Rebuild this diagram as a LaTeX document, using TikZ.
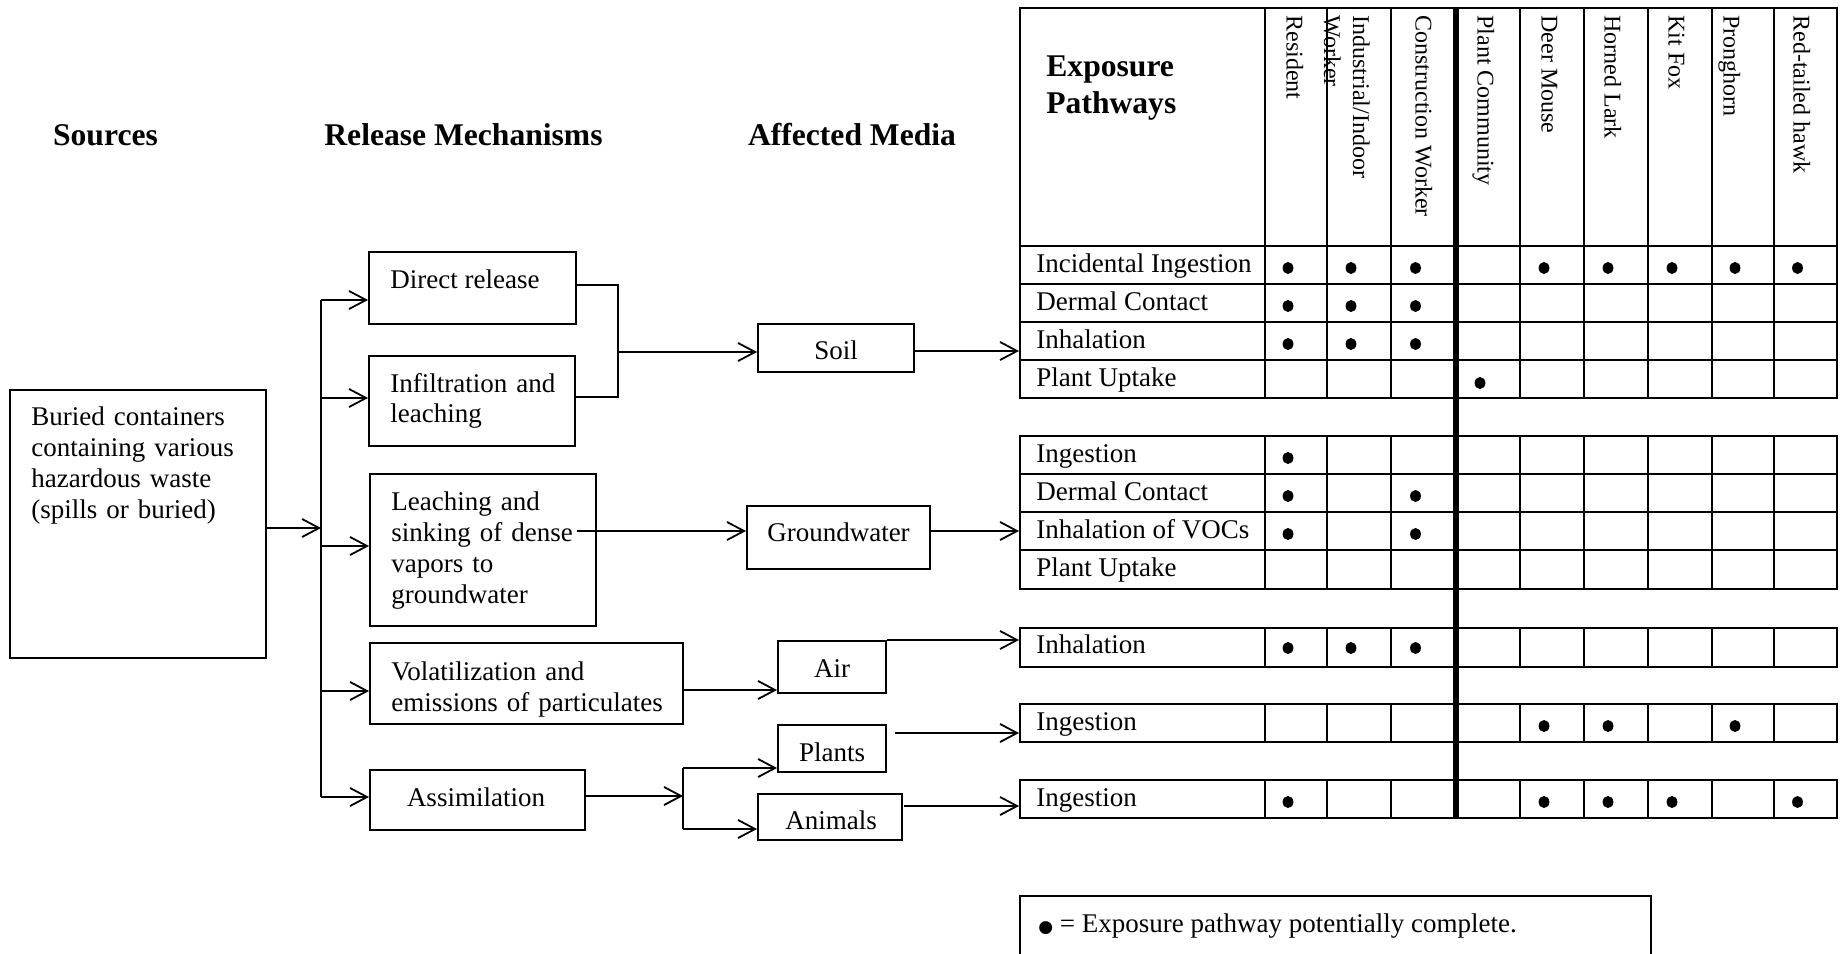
\documentclass[tikz,border=0pt]{standalone}
\usepackage{fontspec}
\setmainfont{Liberation Serif}
\newfontfamily\symfont{DejaVu Sans}
\usetikzlibrary{arrows.meta}
\begin{document}
\begin{tikzpicture}[x=0.5pt,y=-0.5pt,
  box/.style={draw,line width=1pt,inner sep=0pt},
  ftxt/.style={font=\fontsize{13.5}{15.5}\selectfont,inner sep=0pt},
  hd/.style={font=\bfseries\fontsize{15.8}{18.5}\selectfont,inner sep=0pt},
  ch/.style={font=\fontsize{12}{14}\selectfont,inner sep=0pt,rotate=-90,anchor=base west},
  rl/.style={font=\fontsize{13.5}{15.5}\selectfont,inner sep=0pt,anchor=base west},
  ln/.style={line width=0.9pt},
  arr/.style={line width=0.9pt,-{Straight Barb[length=8.5pt,width=9pt]}},
  grid/.style={line width=1pt},
  thick line/.style={line width=3pt}
]
\useasboundingbox (0,0) rectangle (1841,953);

% ---------- headings ----------
\node[hd] (hsrc) at (105.5,135) {Sources};
\node[hd] (hrel) at (463.5,135) {Release Mechanisms};
\node[hd] (hmed) at (852,135) {Affected Media};

% ---------- flow boxes ----------
\node[box,minimum width=128pt,minimum height=134pt] (src) at (138,524) {};
\node[box,minimum width=103.5pt,minimum height=36pt] (dr) at (472.5,288) {};
\node[box,minimum width=103pt,minimum height=45pt] (inf) at (472,401) {};
\node[box,minimum width=113pt,minimum height=76pt] (lea) at (483,550) {};
\node[box,minimum width=156.5pt,minimum height=40.5pt] (vol) at (526.5,683.5) {};
\node[box,minimum width=107.5pt,minimum height=30pt] (asm) at (477.5,800) {};
\node[box,minimum width=78pt,minimum height=24pt] (soil) at (836,348) {};
\node[box,minimum width=91.5pt,minimum height=31.5pt] (gw) at (838.5,537.5) {};
\node[box,minimum width=54pt,minimum height=26pt] (air) at (832,667) {};
\node[box,minimum width=54pt,minimum height=23.5pt] (pl) at (832,748.5) {};
\node[box,minimum width=72pt,minimum height=23pt] (an) at (830,817) {};

% ---------- box texts ----------
\node[ftxt,anchor=base west,text width=120pt,align=left] (srct) at (31,425)
  {Buried containers\\containing various\\hazardous waste\\(spills or buried)};
\node[ftxt,anchor=base west] (drt) at (390,288) {Direct release};
\node[ftxt,anchor=base west,text width=100pt,align=left,font=\fontsize{13.5}{15}\selectfont] (inft) at (390,392)
  {Infiltration and\\leaching};
\node[ftxt,anchor=base west,text width=105pt,align=left] (leat) at (391,510)
  {Leaching and\\sinking of dense\\vapors to\\groundwater};
\node[ftxt,anchor=base west,text width=150pt,align=left] (volt) at (391,680)
  {Volatilization and\\emissions of particulates};
\node[ftxt] (asmt) at (476,797) {Assimilation};
\node[ftxt] (soilt) at (836,350) {Soil};
\node[ftxt] (gwt) at (838.5,532.5) {Groundwater};
\node[ftxt] (airt) at (832,668.5) {Air};
\node[ftxt] (plt) at (832,752.5) {Plants};
\node[ftxt] (ant) at (831,820) {Animals};

% ---------- connectors ----------
\coordinate (b0) at (321,300);
\coordinate (b1) at (321,398);
\coordinate (bs) at (321,528);
\coordinate (b2) at (321,546);
\coordinate (b3) at (321,691);
\coordinate (b4) at (321,797);
\draw[ln] (b0) -- (b4);
\draw[arr] (src.east |- bs) -- (bs);
\draw[arr] (b0) -- (dr.west |- b0);
\draw[arr] (b1) -- (inf.west |- b1);
\draw[arr] (b2) -- (lea.west |- b2);
\draw[arr] (b3) -- (vol.west |- b3);
\draw[arr] (b4) -- (asm.west |- b4);

\coordinate (m1) at (618,285);
\coordinate (m2) at (618,397);
\coordinate (mm) at (618,352);
\draw[ln] (dr.east |- m1) -- (m1) -- (m2) -- (inf.east |- m2);
\draw[arr] (mm) -- (soil.west |- mm);

\coordinate (lo) at (577,531);
\draw[arr] (lo) -- (gw.west |- lo);

\coordinate (va) at (700,690);
\draw[arr] (vol.east |- va) -- (air.west |- va);

\coordinate (aj) at (683,796);
\coordinate (ajt) at (683,768);
\coordinate (ajb) at (683,829);
\draw[arr] (asm.east |- aj) -- (aj);
\draw[ln] (ajt) -- (ajb);
\draw[arr] (ajt) -- (pl.west |- ajt);
\draw[arr] (ajb) -- (an.west |- ajb);

\coordinate (t1) at (1019,351);
\coordinate (t2) at (1019,531);
\coordinate (t3) at (1019,641);
\coordinate (po) at (895,733);
\coordinate (t4) at (1019,733);
\coordinate (ao) at (904,806);
\coordinate (t5) at (1019,806);
\draw[arr] (soil.east |- t1) -- (t1);
\draw[arr] (gw.east |- t2) -- (t2);
\draw[arr] (air.north east) -- (air.north east -| t3);
\draw[arr] (po) -- (t4);
\draw[arr] (ao) -- (t5);

% ---------- table text ----------
\node[hd,anchor=base west,text width=100pt,align=left] (hexp) at (1046,76) {Exposure\\Pathways};
\node[ch] (hres) at (1286.5,15) {Resident};
\node[ch] (hind2) at (1324,15) {Worker};
\node[ch] (hind1) at (1353,15) {Industrial/Indoor};
\node[ch] (hcon) at (1415.5,15) {Construction Worker};
\node[ch] (hplt) at (1477.5,15) {Plant Community};
\node[ch] (hdm) at (1541.5,15) {Deer Mouse};
\node[ch] (hhl) at (1604.5,15) {Horned Lark};
\node[ch] (hkf) at (1668.5,15) {Kit Fox};
\node[ch] (hpr) at (1723.5,15) {Pronghorn};
\node[ch] (hrt) at (1793.5,15) {Red-tailed hawk};

\node[rl] (r11) at (1036,272) {Incidental Ingestion};
\node[rl] (r12) at (1036,310) {Dermal Contact};
\node[rl] (r13) at (1036,348) {Inhalation};
\node[rl] (r14) at (1036,386) {Plant Uptake};
\node[rl] (r21) at (1036,462) {Ingestion};
\node[rl] (r22) at (1036,500) {Dermal Contact};
\node[rl] (r23) at (1036,538) {Inhalation of VOCs};
\node[rl] (r24) at (1036,576) {Plant Uptake};
\node[rl] (r31) at (1036,653) {Inhalation};
\node[rl] (r41) at (1036,730) {Ingestion};
\node[rl] (r51) at (1036,806) {Ingestion};

% ---------- table grid ----------
\draw[grid] (1020,8) rectangle (1837,246);
\foreach \c in {1265,1327,1391,1520,1584,1648,1712,1774}
  \draw[grid] (\c,8) -- (\c,246);
\foreach \t/\b/\rows in {246/398/{284,322,360}, 436/589/{474,512,550}, 628/667/{}, 704/742/{}, 780/818/{}} {
  \draw[grid] (1020,\t) rectangle (1837,\b);
  \foreach \r in \rows \draw[grid] (1020,\r) -- (1837,\r);
  \foreach \c in {1265,1327,1391,1520,1584,1648,1712,1774}
    \draw[grid] (\c,\t) -- (\c,\b);
}
\draw[thick line] (1456,7) -- (1456,819);

% ---------- dots ----------
\foreach \x/\y in {1288/268,1351/268,1415.5/268,1544/268,1608/268,1672/268,1735/268,1797.5/268,
  1288/306,1351/306,1415.5/306,
  1288/344,1351/344,1415.5/344,
  1480/383,
  1288/458,
  1288/496,1415.5/496,
  1288/534,1415.5/534,
  1288/648,1351/648,1415.5/648,
  1544/726,1608/726,1735/726,
  1288/802,1544/802,1608/802,1672/802,1797.5/802}
  \fill (\x,\y) ellipse [x radius=2.7pt, y radius=3pt];

% ---------- legend ----------
\draw[ln] (1020,960) -- (1020,896) -- (1651,896) -- (1651,960);
\node[ftxt,anchor=base west] (legt) at (1038,932)
  {{\symfont\fontsize{8.5}{8.5}\selectfont ●} = Exposure pathway potentially complete.};
\end{tikzpicture}
\end{document}
